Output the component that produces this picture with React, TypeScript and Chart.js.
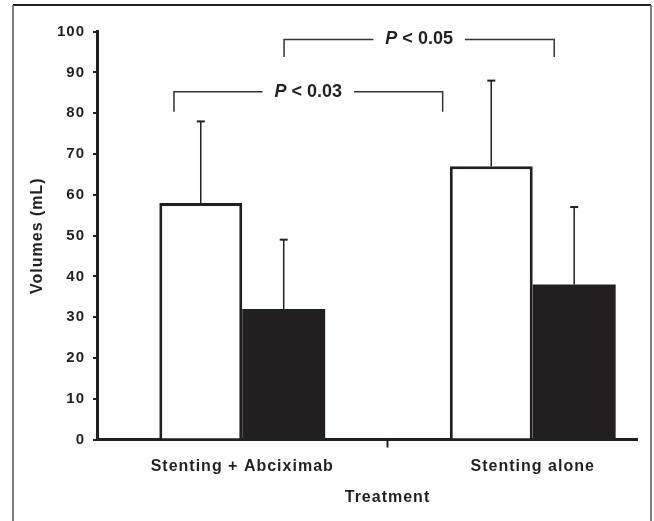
import React, { useEffect, useRef } from 'react';
import { Chart, registerables } from 'chart.js';

Chart.register(...registerables);

// ---- data ----
const categories = ['Stenting + Abciximab', 'Stenting alone'];
const categoryCenters = [0.5, 1.5];
const openValues = [58, 67];
const openSD = [20, 21];
const filledValues = [32, 38];
const filledSD = [17, 19];
const yMin = 0;
const yMax = 100;
const yStep = 10;
const xTitle = 'Treatment';
const yTitle = 'Volumes (mL)';
// significance brackets (x in category units, y in mL)
const bracketStart = [0.265, 0.644];
const bracketEnd = [1.19, 1.574];
const bracketTop = [85.3, 98.1];
const bracketBottom = [80.4, 93.8];
const bracketP = ['0.03', '0.05'];

export default function App() {
  const ref = useRef<HTMLCanvasElement>(null);

  useEffect(() => {
    document.body.style.margin = '0';
    const ink = '#231f20';
    const FONT = '"Liberation Sans", Arial, Helvetica, sans-serif';
    const errors = [openSD, filledSD];

    const extras = {
      id: 'extras',
      beforeDraw(chart: any) {
        chart.ctx.letterSpacing = '1px';
      },
      afterDraw(chart: any) {
        const { ctx, chartArea, scales } = chart;
        const x = scales.x;
        const y = scales.y;
        ctx.save();
        ctx.lineCap = 'butt';

        // outer frame (cropped at the bottom)
        ctx.strokeStyle = ink;
        ctx.lineWidth = 2;
        ctx.beginPath();
        ctx.moveTo(13, 5);
        ctx.lineTo(651, 5);
        ctx.stroke();
        ctx.strokeStyle = '#555';
        ctx.lineWidth = 1.5;
        ctx.beginPath();
        ctx.moveTo(13, 5);
        ctx.lineTo(13, 521);
        ctx.moveTo(651, 5);
        ctx.lineTo(651, 521);
        ctx.stroke();

        // error bars
        chart.data.datasets.forEach((ds: any, di: number) => {
          const meta = chart.getDatasetMeta(di);
          meta.data.forEach((bar: any, i: number) => {
            const v = ds.data[i].y + errors[di][i];
            const top = y.getPixelForValue(v);
            ctx.strokeStyle = ink;
            ctx.lineWidth = 1.5;
            ctx.beginPath();
            ctx.moveTo(bar.x, bar.y);
            ctx.lineTo(bar.x, top);
            ctx.stroke();
            ctx.lineWidth = 2;
            ctx.beginPath();
            ctx.moveTo(bar.x - 4, top);
            ctx.lineTo(bar.x + 4, top);
            ctx.stroke();
          });
        });

        // category boundary tick on the x axis
        ctx.strokeStyle = ink;
        ctx.lineWidth = 2;
        const bx = x.getPixelForValue(1);
        ctx.beginPath();
        ctx.moveTo(bx, chartArea.bottom);
        ctx.lineTo(bx, chartArea.bottom + 8);
        ctx.stroke();

        // x title
        ctx.letterSpacing = '1px';
        ctx.fillStyle = ink;
        ctx.font = `bold 16px ${FONT}`;
        ctx.textAlign = 'center';
        ctx.textBaseline = 'middle';
        ctx.fillText(xTitle, bx, 498);

        // significance brackets
        ctx.letterSpacing = '0px';
        bracketP.forEach((p, i) => {
          const x1 = x.getPixelForValue(bracketStart[i]);
          const x2 = x.getPixelForValue(bracketEnd[i]);
          const yt = y.getPixelForValue(bracketTop[i]);
          const yb = y.getPixelForValue(bracketBottom[i]);
          const cx = (x1 + x2) / 2;
          const italic = `italic bold 18px ${FONT}`;
          const bold = `bold 18px ${FONT}`;
          ctx.font = italic;
          const wP = ctx.measureText('P').width;
          ctx.font = bold;
          const rest = ' < ' + p;
          const wR = ctx.measureText(rest).width;
          const total = wP + wR;
          const tx = cx - total / 2;
          const gap = 12;
          ctx.strokeStyle = '#333';
          ctx.lineWidth = 1.5;
          ctx.beginPath();
          ctx.moveTo(x1, yb);
          ctx.lineTo(x1, yt);
          ctx.lineTo(tx - gap, yt);
          ctx.moveTo(tx + total + gap, yt);
          ctx.lineTo(x2, yt);
          ctx.lineTo(x2, yb);
          ctx.stroke();
          ctx.fillStyle = ink;
          ctx.textAlign = 'left';
          ctx.textBaseline = 'middle';
          ctx.font = italic;
          ctx.fillText('P', tx, yt);
          ctx.font = bold;
          ctx.fillText(rest, tx + wP, yt);
        });

        ctx.restore();
      },
    };

    const chart = new Chart(ref.current as HTMLCanvasElement, {
      type: 'bar',
      data: {
        datasets: [
          {
            label: 'open',
            data: categoryCenters.map((c, i) => ({ x: c, y: openValues[i] })),
            backgroundColor: '#ffffff',
            borderColor: ink,
            borderWidth: 3,
            categoryPercentage: 0.571,
            barPercentage: 1,
          },
          {
            label: 'filled',
            data: categoryCenters.map((c, i) => ({ x: c, y: filledValues[i] })),
            backgroundColor: ink,
            borderWidth: 0,
            categoryPercentage: 0.571,
            barPercentage: 1,
          },
        ],
      },
      options: {
        animation: false,
        responsive: false,
        devicePixelRatio: 1,
        layout: { padding: { top: 31.7, right: 17, bottom: 0, left: 0 } },
        plugins: {
          legend: { display: false },
          tooltip: { enabled: false },
        },
        scales: {
          x: {
            type: 'linear',
            min: 0,
            max: 1.859,
            offset: false,
            afterBuildTicks: (scale: any) => {
              scale.ticks = categoryCenters.map((v) => ({ value: v }));
            },
            afterFit: (scale: any) => {
              scale.height = 521 - 439.5;
            },
            grid: { display: false, drawTicks: false },
            border: { display: true, width: 3, color: ink },
            ticks: {
              autoSkip: false,
              maxRotation: 0,
              padding: 17,
              color: ink,
              font: { family: FONT, size: 16, weight: 'bold' },
              callback: (_v: any, i: number) => categories[i],
            },
          },
          y: {
            min: yMin,
            max: yMax,
            afterFit: (scale: any) => {
              scale.width = 97;
            },
            grid: {
              display: true,
              drawOnChartArea: false,
              drawTicks: true,
              tickLength: 4,
              lineWidth: 2,
              color: ink,
            },
            border: { display: true, width: 3, color: ink },
            ticks: {
              stepSize: yStep,
              padding: 8,
              color: ink,
              font: { family: FONT, size: 15, weight: 'bold' },
            },
            title: {
              display: true,
              text: yTitle,
              color: ink,
              font: { family: FONT, size: 16, weight: 'bold' },
              padding: { top: 28, bottom: 0 },
            },
          },
        },
      } as any,
      plugins: [extras],
    });

    return () => chart.destroy();
  }, []);

  return (
    <div style={{ width: 654, height: 521, background: '#fff' }}>
      <canvas ref={ref} width={654} height={521} style={{ display: 'block' }} />
    </div>
  );
}
